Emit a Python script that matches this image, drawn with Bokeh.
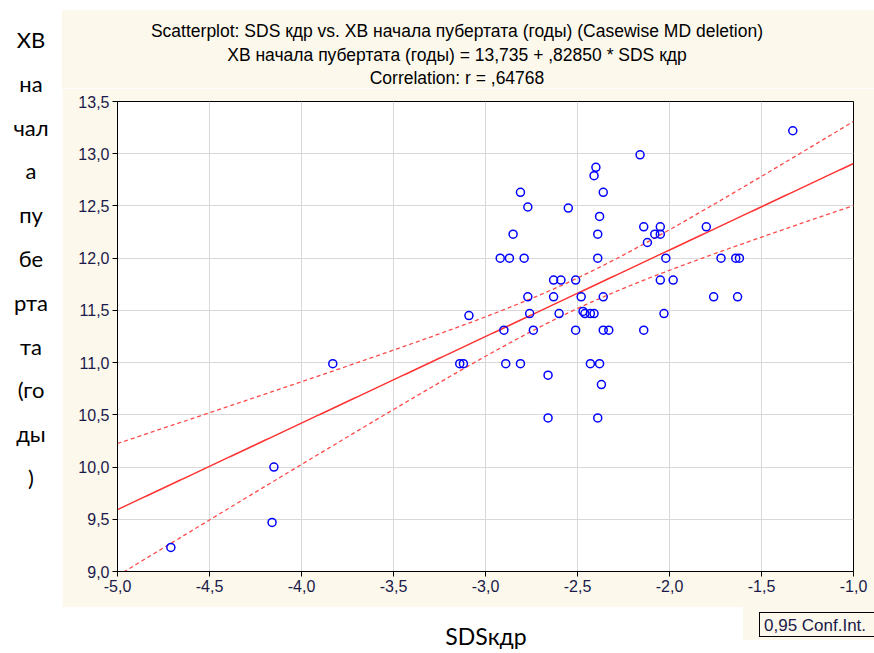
import numpy as np
from bokeh.plotting import figure
from bokeh.layouts import row, column
from bokeh.models import Div, FixedTicker, Range1d, CustomJSTickFormatter
from bokeh.embed import file_html
from bokeh.resources import INLINE

# SDS кдр vs. age at onset of puberty
sds_kdr = [
    -1.33, -2.16, -2.40, -2.41, -2.81, -2.36, -2.77, -2.55, -2.38, -2.14,
    -2.05, -1.80, -2.85, -2.39, -2.08, -2.05, -2.12, -2.92, -2.87, -2.79,
    -2.39, -2.02, -1.72, -1.64, -1.62, -2.63, -2.59, -2.51, -2.05, -1.98,
    -2.77, -2.63, -2.48, -2.36, -1.76, -1.63, -3.09, -2.76, -2.60, -2.47,
    -2.46, -2.43, -2.41, -2.03, -2.90, -2.74, -2.51, -2.36, -2.33, -2.14,
    -3.83, -3.14, -3.12, -2.89, -2.81, -2.43, -2.38, -2.66, -2.37, -2.66,
    -2.39, -4.15, -4.16, -4.71,
]
puberty_age = [
    13.22, 12.99, 12.87, 12.79, 12.63, 12.63, 12.49, 12.48, 12.40, 12.30,
    12.30, 12.30, 12.23, 12.23, 12.23, 12.23, 12.15, 12.00, 12.00, 12.00,
    12.00, 12.00, 12.00, 12.00, 12.00, 11.79, 11.79, 11.79, 11.79, 11.79,
    11.63, 11.63, 11.63, 11.63, 11.63, 11.63, 11.45, 11.47, 11.47, 11.49,
    11.47, 11.47, 11.47, 11.47, 11.31, 11.31, 11.31, 11.31, 11.31, 11.31,
    10.99, 10.99, 10.99, 10.99, 10.99, 10.99, 10.99, 10.88, 10.79, 10.47,
    10.47, 10.00, 9.47, 9.23,
]

# fitted line as reported in the header
intercept = 13.735
slope = 0.82850
r_value = ",64768"
t_975 = 1.999  # Student t, 0.975 quantile, df = n - 2

x_ticks = [-5.0, -4.5, -4.0, -3.5, -3.0, -2.5, -2.0, -1.5, -1.0]
y_ticks = [9.0, 9.5, 10.0, 10.5, 11.0, 11.5, 12.0, 12.5, 13.0, 13.5]

title_lines = [
    "Scatterplot: SDS кдр vs. ХВ начала пубертата (годы) (Casewise MD deletion)",
    "ХВ начала пубертата (годы) = 13,735 + ,82850 * SDS кдр",
    "Correlation: r = " + r_value,
]
y_label_lines = ["ХВ", "на", "чал", "а", "пу", "бе", "рта", "та", "(го", "ды", ")"]
x_label = "SDSкдр"
legend_text = "0,95 Conf.Int."

CREAM = "#fdf8ec"
NAVY = "#1a1a4a"
SANS = "Liberation Sans"
HUMANIST = "Lato"

# page geometry
W, H = 874, 653
PANEL_L, PANEL_T = 62, 10          # cream panel origin
TITLE_H = 78                        # header strip height
FL, FR, FT, FB = 117, 853, 101, 571  # plot frame on the page
FIG_T, FIG_B = PANEL_T + TITLE_H, 607
PANEL_W = W - PANEL_L

p = figure(width=PANEL_W, height=FIG_B - FIG_T, output_backend="svg",
           toolbar_location=None,
           x_range=Range1d(-5.0, -1.0), y_range=Range1d(9.0, 13.5),
           min_border_left=FL - PANEL_L, min_border_right=W - FR,
           min_border_top=FT - FIG_T, min_border_bottom=FIG_B - FB)
p.margin = 0
p.border_fill_color = CREAM
p.background_fill_color = "white"
p.outline_line_color = "black"
p.outline_line_width = 1

fmt = CustomJSTickFormatter(code="return tick.toFixed(1).replace('.', ',');")
for ax, ticks in ((p.xaxis, x_ticks), (p.yaxis, y_ticks)):
    ax.ticker = FixedTicker(ticks=ticks)
    ax.formatter = fmt
    ax.axis_line_color = "black"
    ax.major_tick_line_color = "black"
    ax.major_tick_in = 0
    ax.major_tick_out = 5
    ax.minor_tick_line_color = None
    ax.major_label_text_font = SANS
    ax.major_label_text_font_size = "16px"
    ax.major_label_text_color = NAVY
    ax.major_label_standoff = 3

p.grid.grid_line_color = "#d8d8d8"
p.grid.grid_line_width = 1

# regression line and 95% confidence band of the mean
xs = np.asarray(sds_kdr)
ys = np.asarray(puberty_age)
n = len(xs)
resid = ys - (intercept + slope * xs)
s = np.sqrt(np.sum(resid ** 2) / (n - 2))
sxx = np.sum((xs - xs.mean()) ** 2)
grid_x = np.linspace(-5.0, -1.0, 200)
fit = intercept + slope * grid_x
half = t_975 * s * np.sqrt(1.0 / n + (grid_x - xs.mean()) ** 2 / sxx)

p.line(grid_x, fit + half, line_color="#ff4a4a", line_width=1.3, line_dash="4 3")
p.line(grid_x, fit - half, line_color="#ff4a4a", line_width=1.3, line_dash="4 3")
p.line(grid_x, fit, line_color="#ff3333", line_width=1.5)

p.scatter(sds_kdr, puberty_age, marker="circle", size=8, fill_color=None,
          line_color="#0000ff", line_width=1.5)


def abs_text(text, left, top, width, height, font, size, color="black",
             align="center", extra=""):
    return (f'<div style="position:absolute;left:{left}px;top:{top}px;'
            f'width:{width}px;height:{height}px;line-height:{height}px;'
            f'text-align:{align};font-family:\'{font}\';font-size:{size}px;'
            f'color:{color};white-space:nowrap;{extra}">{text}</div>')


def box(inner, width, height, bg):
    return (f'<div style="position:relative;width:{width}px;height:{height}px;'
            f'background:{bg};overflow:visible;">{inner}</div>')


# stacked vertical axis title on the left
left_html = "".join(
    abs_text(t, 0, 40 + 43.8 * i - 15, PANEL_L, 30, HUMANIST, 22)
    for i, t in enumerate(y_label_lines))
left_div = Div(text=box(left_html, PANEL_L, H, "white"), width=PANEL_L, height=H,
               margin=0)

top_div = Div(text=box("", PANEL_W, PANEL_T, "white"), width=PANEL_W,
              height=PANEL_T, margin=0)

# header lines
title_cx = 457 - PANEL_L
title_html = "".join(
    abs_text(t, title_cx - 400, 21 + 23.5 * i - 11, 800, 22, SANS, 17.5)
    for i, t in enumerate(title_lines))
title_div = Div(text=box(title_html, PANEL_W, TITLE_H, CREAM), width=PANEL_W,
                height=TITLE_H, margin=0)

# bottom strip: x-axis title and the confidence legend
bottom_h = H - FIG_B
leg_l = 743 - PANEL_L
bottom_html = (
    f'<div style="position:absolute;left:{leg_l}px;top:0;width:{PANEL_W - leg_l}px;'
    f'height:33px;background:{CREAM};"></div>'
    f'<div style="position:absolute;left:{759 - PANEL_L}px;top:5px;width:130px;'
    f'height:25px;border:1px solid black;background:{CREAM};"></div>'
    + abs_text(legend_text, 764 - PANEL_L, 6, 120, 25, SANS, 17, NAVY, "left")
    + abs_text(x_label, 486 - PANEL_L - 100, 29 - 15, 200, 30, HUMANIST, 23)
)
bottom_div = Div(text=box(bottom_html, PANEL_W, bottom_h, "white"), width=PANEL_W,
                 height=bottom_h, margin=0)

layout = row(left_div, column(top_div, title_div, p, bottom_div, spacing=0),
             spacing=0)

open("out.html", "w").write(file_html(layout, INLINE))
